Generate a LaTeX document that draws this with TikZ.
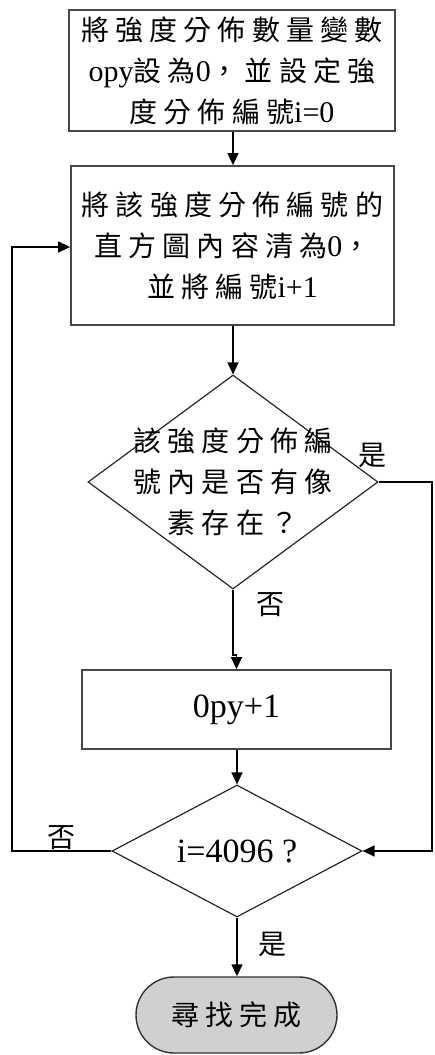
\documentclass[tikz,border=0pt]{standalone}
\usepackage{fontspec}
\setmainfont{Liberation Serif}
\newfontfamily\cjkfam[LetterSpace=22]{Noto Sans CJK TC}
\newcommand\cj[1]{{\fontsize{28}{41}\cjkfam #1}}
\usetikzlibrary{arrows.meta,shapes.geometric}
\definecolor{termfill}{HTML}{D0D0D0}
\tikzset{
  boxstyle/.style={draw=black!72, line width=1.8pt, rectangle, inner sep=0pt, align=center,
    font=\fontsize{30}{41}\selectfont},
  diastyle/.style={draw=black!85, line width=1.2pt, diamond, inner sep=0pt},
  diatext/.style={align=center, inner sep=0pt, font=\fontsize{30}{41}\selectfont},
  termstyle/.style={draw=black!80, line width=1.4pt, fill=termfill, rectangle, rounded corners=38pt,
    minimum width=201pt, minimum height=76pt, inner sep=0pt},
  arr/.style={draw=black, line width=1.4pt, -{Triangle[length=12pt,width=11pt]}},
  lbl/.style={inner sep=0pt}
}
\begin{document}
\begin{tikzpicture}[x=1pt,y=-1pt]
\useasboundingbox (0,0) rectangle (434,1055);

\node[boxstyle, minimum width=326pt, minimum height=121pt] (b1) at (232,70.5)
  {\cj{將強度分佈數量變數}\\opy\cj{設為}0\cj{，並設定強}\\\cj{度分佈編號}i=0};

\node[boxstyle, minimum width=323pt, minimum height=159pt] (b2) at (232.5,245.5)
  {\cj{將該強度分佈編號的}\\\cj{直方圖內容清為}0\cj{，}\\\cj{並將編號}i+1};

\node[diastyle, minimum width=290pt, minimum height=214pt] (d1) at (233,482) {};
\node[diatext] (t1) at (233,482) {\cj{該強度分佈編}\\\cj{號內是否有像}\\\cj{素存在？}};

\node[boxstyle, minimum width=309pt, minimum height=79pt, font=\fontsize{34}{41}\selectfont] (b3) at (236.5,709.5) {0py+1};

\node[diastyle, minimum width=250pt, minimum height=132pt] (d2) at (237,851) {};
\node[diatext, font=\fontsize{34}{41}\selectfont] (t2) at (237,851) {i=4096 ?};

\node[termstyle] (term) at (236.5,1015) {\cj{尋找完成}};

% labels
\node[lbl] (yes1) at (372,455) {\cj{是}};
\node[lbl] (no1) at (270,605) {\cj{否}};
\node[lbl] (no2) at (61,838) {\cj{否}};
\node[lbl] (yes2) at (272,944) {\cj{是}};

% helper coordinates
\coordinate (k1) at (233,655);
\coordinate (r1) at (432,482);
\coordinate (r2) at (432,851);
\coordinate (l1) at (12,851);
\coordinate (l2) at (12,247);

% connectors
\draw[arr] (b1.south -| d1.north) -- (b2.north -| d1.north);
\draw[arr] (b2.south -| d1.north) -- (d1.north);
\draw[arr] (d1.south) -- (k1) -- (k1 -| b3.north) -- (b3.north);
\draw[arr] (b3.south -| d2.north) -- (d2.north);
\draw[arr] (d2.south) -- (term.north -| d2.south);
\draw[arr] (d1.east) -- (r1) -- (r2) -- (d2.east);
\draw[arr] (d2.west) -- (l1) -- (l2) -- (l2 -| b2.west);
\end{tikzpicture}
\end{document}
